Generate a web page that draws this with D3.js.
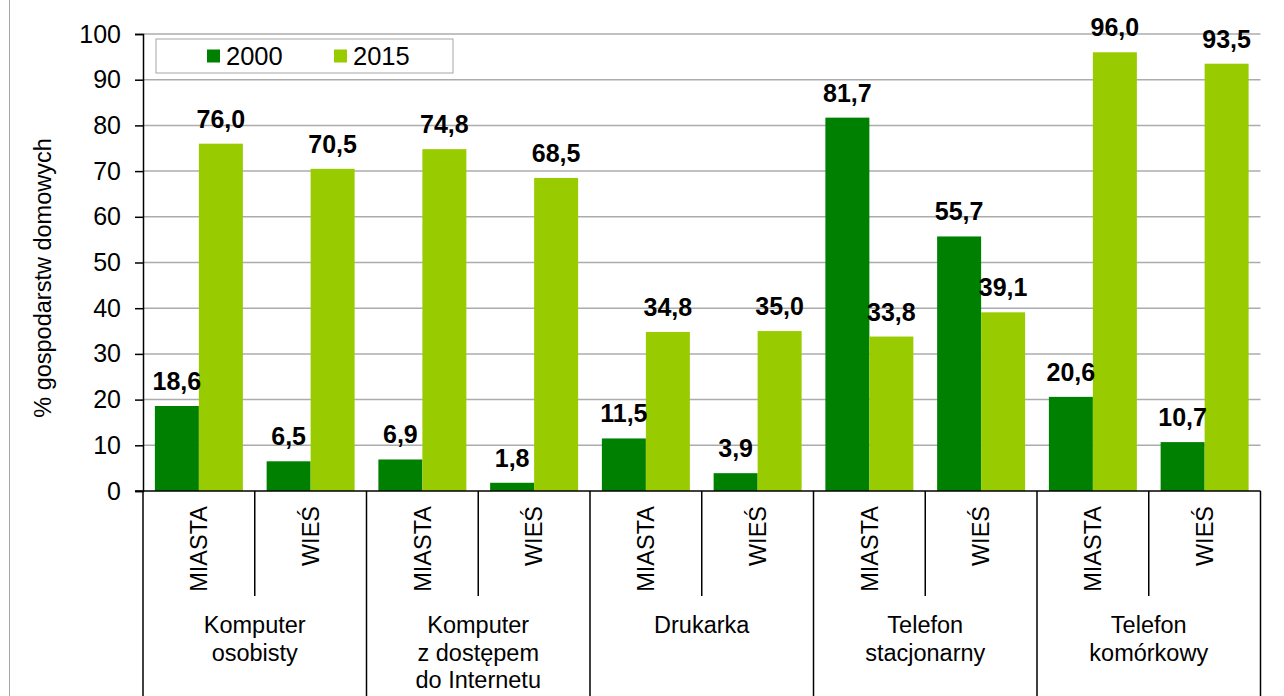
<!DOCTYPE html>
<html>
<head>
<meta charset="utf-8">
<script src="https://cdn.jsdelivr.net/npm/d3@7"></script>
<style>
    body { margin: 0; background: #fff; }
    svg { display: block; font-family: Arial, "Liberation Sans", sans-serif; }
</style>
</head>
<body>
<div id="chart"></div>
<script>
var groups = [
    ["Komputer", "osobisty"],
    ["Komputer", "z dostępem", "do Internetu"],
    ["Drukarka"],
    ["Telefon", "stacjonarny"],
    ["Telefon", "komórkowy"]
];
var places = ["MIASTA", "WIEŚ"];
var seriesNames = ["2000", "2015"];
var values2000 = [18.6, 6.5, 6.9, 1.8, 11.5, 3.9, 81.7, 55.7, 20.6, 10.7];
var values2015 = [76.0, 70.5, 74.8, 68.5, 34.8, 35.0, 33.8, 39.1, 96.0, 93.5];
var yTicks = [0, 10, 20, 30, 40, 50, 60, 70, 80, 90, 100];
var colors = ["#008000", "#99CC00"];

var width = 1284, height = 696;
var plotLeft = 143, plotRight = 1260.5, plotTop = 34, plotBottom = 491;

var svg = d3.select("#chart").append("svg")
    .attr("width", width)
    .attr("height", height);

// one slot per group x place
var slots = [];
groups.forEach(function (g, gi) {
    places.forEach(function (p, pi) {
        var i = gi * places.length + pi;
        slots.push({id: gi + "-" + p, place: p, group: gi, v: [values2000[i], values2015[i]]});
    });
});

var x = d3.scaleBand()
    .domain(slots.map(function (d) { return d.id; }))
    .range([plotLeft, plotRight])
    .padding(0);

var xInner = d3.scaleBand()
    .domain(seriesNames)
    .range([0, x.bandwidth()])
    .paddingInner(0)
    .paddingOuter(0.27);

var y = d3.scaleLinear().domain([0, 100]).range([plotBottom, plotTop]);

var fmt = function (v) { return d3.format(".1f")(v).replace(".", ","); };

// outer frame fragment on the left
svg.append("line")
    .attr("x1", 9.5).attr("x2", 9.5)
    .attr("y1", 0).attr("y2", height)
    .attr("stroke", "#a6a6a6");

// gridlines
svg.append("g").selectAll("line")
    .data(yTicks.filter(function (t) { return t > 0; }))
    .enter().append("line")
    .attr("x1", plotLeft).attr("x2", plotRight)
    .attr("y1", function (d) { return y(d); })
    .attr("y2", function (d) { return y(d); })
    .attr("stroke", "#acacac")
    .attr("stroke-width", 1.5);

// bars
var slotG = svg.append("g").selectAll("g")
    .data(slots)
    .enter().append("g")
    .attr("transform", function (d) { return "translate(" + x(d.id) + ",0)"; });

slotG.selectAll("rect")
    .data(function (d) { return d.v.map(function (v, k) { return {s: seriesNames[k], v: v, k: k}; }); })
    .enter().append("rect")
    .attr("x", function (d) { return xInner(d.s); })
    .attr("y", function (d) { return y(d.v); })
    .attr("width", xInner.bandwidth())
    .attr("height", function (d) { return plotBottom - y(d.v); })
    .attr("fill", function (d) { return colors[d.k]; });

slotG.selectAll("text")
    .data(function (d) { return d.v.map(function (v, k) { return {s: seriesNames[k], v: v}; }); })
    .enter().append("text")
    .attr("x", function (d) { return xInner(d.s) + xInner.bandwidth() / 2; })
    .attr("y", function (d) { return y(d.v) - 16; })
    .attr("text-anchor", "middle")
    .style("font-size", "25px")
    .style("font-weight", "bold")
    .text(function (d) { return fmt(d.v); });

// y axis
var yAxis = d3.axisLeft(y).tickValues(yTicks).tickSize(8).tickPadding(14);
var yg = svg.append("g")
    .attr("transform", "translate(" + plotLeft + ",0)")
    .call(yAxis);
yg.select(".domain").attr("stroke", "#000").attr("stroke-width", 1.5);
yg.selectAll(".tick line").attr("stroke", "#000").attr("stroke-width", 1.5);
yg.selectAll("text").style("font-size", "25px").style("font-family", "Arial, 'Liberation Sans', sans-serif").attr("fill", "#000");

svg.append("text")
    .attr("transform", "translate(43,278) rotate(-90)")
    .attr("text-anchor", "middle")
    .attr("dy", "0.35em")
    .style("font-size", "23.5px")
    .text("% gospodarstw domowych");

// category table below the axis
var axisG = svg.append("g");
axisG.append("line")
    .attr("x1", plotLeft - 8).attr("x2", plotRight)
    .attr("y1", plotBottom).attr("y2", plotBottom)
    .attr("stroke", "#000").attr("stroke-width", 1.5);

var bounds = d3.range(slots.length + 1);
axisG.selectAll("line.div")
    .data(bounds)
    .enter().append("line")
    .attr("class", "div")
    .attr("x1", function (i) { return plotLeft + i * x.bandwidth(); })
    .attr("x2", function (i) { return plotLeft + i * x.bandwidth(); })
    .attr("y1", plotBottom)
    .attr("y2", function (i) { return i % places.length === 0 ? height : 596; })
    .attr("stroke", "#000").attr("stroke-width", 1.5);

axisG.selectAll("text.place")
    .data(slots)
    .enter().append("text")
    .attr("class", "place")
    .attr("transform", function (d) {
        return "translate(" + (x(d.id) + x.bandwidth() / 2) + ",506) rotate(-90)";
    })
    .attr("text-anchor", "end")
    .attr("dy", "0.35em")
    .style("font-size", "23.5px")
    .text(function (d) { return d.place; });

axisG.selectAll("text.group")
    .data(groups)
    .enter().append("text")
    .attr("class", "group")
    .attr("x", function (d, gi) { return plotLeft + (gi + 0.5) * places.length * x.bandwidth(); })
    .attr("y", 633)
    .attr("text-anchor", "middle")
    .style("font-size", "23.5px")
    .selectAll("tspan")
    .data(function (d) { return d; })
    .enter().append("tspan")
    .attr("x", function () { return d3.select(this.parentNode).attr("x"); })
    .attr("dy", function (d, i) { return i === 0 ? 0 : 27.5; })
    .text(function (d) { return d; });

// legend
var legend = svg.append("g");
legend.append("rect")
    .attr("x", 156).attr("y", 39)
    .attr("width", 297).attr("height", 34)
    .attr("fill", "#fff")
    .attr("stroke", "#a6a6a6")
    .attr("stroke-width", 1);
var legendX = [207, 334];
seriesNames.forEach(function (s, k) {
    legend.append("rect")
        .attr("x", legendX[k]).attr("y", 49.5)
        .attr("width", 13).attr("height", 13)
        .attr("fill", colors[k]);
    legend.append("text")
        .attr("x", legendX[k] + 19).attr("y", 64.5)
        .style("font-size", "25.5px")
        .text(s);
});
</script>
</body>
</html>
